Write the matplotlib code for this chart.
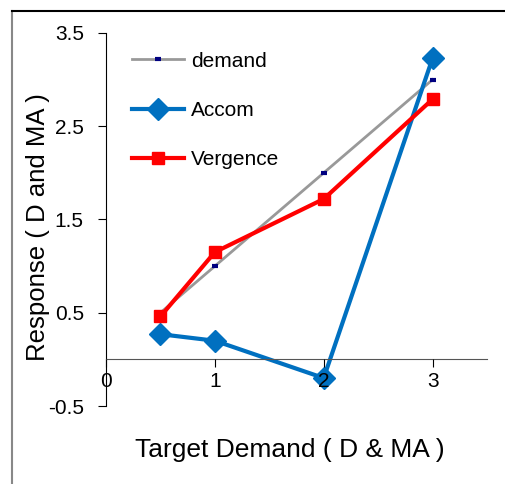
import matplotlib.pyplot as plt
from matplotlib.lines import Line2D

plt.rcParams['font.family'] = ['Liberation Sans', 'DejaVu Sans']

x_target = [0.5, 1, 2, 3]
demand = [0.5, 1, 2, 3]
accom = [0.27, 0.2, -0.2, 3.23]
vergence = [0.46, 1.15, 1.72, 2.79]

fig = plt.figure(figsize=(5.05, 4.84), dpi=100)
ax = fig.add_axes([106/505, 1 - 406/484, 381/505, 373/484])

ax.plot(x_target, demand, color='#999999', lw=2, marker='_', ms=5, mew=3,
        mec='#000080', label='demand')
ax.plot(x_target, accom, color='#0070C0', lw=3, marker='D', ms=11,
        label='Accom')
ax.plot(x_target, vergence, color='#FF0000', lw=3, marker='s', ms=9,
        label='Vergence')

ax.set_axisbelow(False)
ax.set_xlim(0, 3.5)
ax.set_ylim(-0.5, 3.5)
ax.set_xticks([0, 1, 2, 3])
ax.set_yticks([-0.5, 0.5, 1.5, 2.5, 3.5])
ax.set_yticklabels(['-0.5', '0.5', '1.5', '2.5', '3.5'])
ax.spines['top'].set_visible(False)
ax.spines['right'].set_visible(False)
ax.spines['bottom'].set_position(('data', 0))
ax.spines['bottom'].set_color('#555555')
ax.tick_params(axis='both', labelsize=15, length=6, direction='out')
ax.tick_params(axis='y', pad=10)
ax.tick_params(axis='x', pad=3)

ax.set_xlabel('Target Demand ( D & MA )', fontsize=19)
ax.xaxis.set_label_coords(0.483, -0.085)
ax.set_ylabel('Response ( D and MA )', fontsize=18.5)
ax.yaxis.set_label_coords(-0.147, 0.48)

ax.legend(loc='upper left', bbox_to_anchor=(0.02, 1.0), frameon=False,
          fontsize=15, labelspacing=1.45, handlelength=2.5, handletextpad=0.3)

# outer chart border
fig.add_artist(Line2D([12/505, 12/505], [0, 1 - 11/484], color='#888888', lw=1.5))
fig.add_artist(Line2D([12/505, 1], [1 - 11/484, 1 - 11/484], color='black', lw=1.5))

fig.savefig('out.png', dpi=100)
